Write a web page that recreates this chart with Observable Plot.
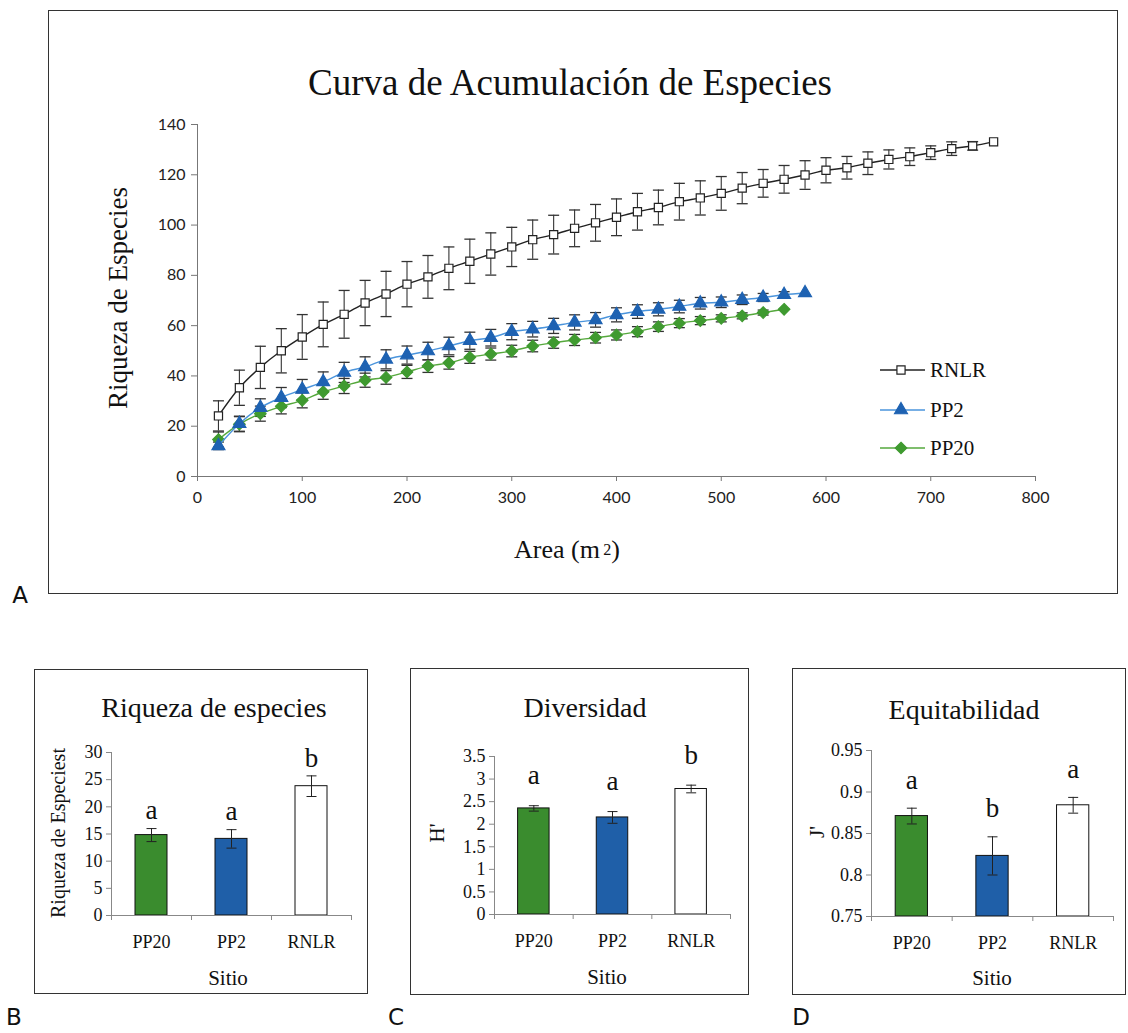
<!DOCTYPE html>
<html><head><meta charset="utf-8">
<script src="https://cdn.jsdelivr.net/npm/d3@7"></script>
<script src="https://cdn.jsdelivr.net/npm/@observablehq/plot@0.6"></script>
<style>
body{margin:0;background:#fff;}
#page{position:relative;width:1128px;height:1033px;overflow:hidden;font-family:"Liberation Serif",serif;color:#111;background:#fff;}
.frame{position:absolute;border:1.5px solid #333;box-sizing:border-box;}
.ctr{position:absolute;transform:translate(-50%,-50%);white-space:nowrap;line-height:1;}
.rot{position:absolute;transform:translate(-50%,-50%) rotate(-90deg);white-space:nowrap;line-height:1;}
.tag{position:absolute;transform:translate(-50%,-50%);font-family:"DejaVu Sans",sans-serif;font-size:23px;line-height:1;}
.slot{position:absolute;}
.leg{position:absolute;display:flex;align-items:center;font-size:21px;line-height:1;}
</style></head><body><div id="page">
<div class="frame" style="left:48px;top:10px;width:1070px;height:584px"></div>
<div class="frame" style="left:34px;top:669px;width:334px;height:325px"></div>
<div class="frame" style="left:410px;top:668px;width:339px;height:327px"></div>
<div class="frame" style="left:792px;top:668px;width:334px;height:327px"></div>
<div class="slot" id="main" style="left:0;top:0"></div>
<div class="slot" id="pB" style="left:34px;top:669px"></div>
<div class="slot" id="pC" style="left:410px;top:668px"></div>
<div class="slot" id="pD" style="left:792px;top:668px"></div>
<div class="ctr" style="left:570px;top:82px;font-size:37px">Curva de Acumulación de Especies</div>
<div class="rot" style="left:118px;top:298px;font-size:27px">Riqueza de Especies</div>
<div class="ctr" style="left:567px;top:550px;font-size:26px">Area (m<span style="font-size:0.62em;vertical-align:0.2em">&thinsp;2</span>)</div>
<div class="tag" style="left:20px;top:595px">A</div>
<div class="tag" style="left:14px;top:1017px">B</div>
<div class="tag" style="left:396px;top:1017px">C</div>
<div class="tag" style="left:801px;top:1017px">D</div>
<div class="ctr" style="left:214px;top:708px;font-size:28px">Riqueza de especies</div>
<div class="ctr" style="left:228px;top:978px;font-size:21px">Sitio</div>
<div class="rot" style="left:58px;top:833px;font-size:20px">Riqueza de Especiest</div>
<div class="ctr" style="left:585px;top:708px;font-size:28px">Diversidad</div>
<div class="ctr" style="left:607px;top:977px;font-size:21px">Sitio</div>
<div class="rot" style="left:437px;top:833px;font-size:21px">H'</div>
<div class="ctr" style="left:964px;top:710px;font-size:28px">Equitabilidad</div>
<div class="ctr" style="left:992px;top:978px;font-size:21px">Sitio</div>
<div class="rot" style="left:817px;top:832px;font-size:21px">J'</div>
<div id="legend"></div>
</div>
<script>
// ---------- Data: species accumulation curve ----------
const areaRNLR = [20,40,60,80,100,120,140,160,180,200,220,240,260,280,300,320,340,360,380,400,420,440,460,480,500,520,540,560,580,600,620,640,660,680,700,720,740,760];
const riquezaRNLR = [24.1,35.3,43.4,50.0,55.5,60.5,64.5,69.0,72.6,76.5,79.4,82.8,85.6,88.5,91.3,94.2,96.2,98.7,100.9,103.1,105.3,107.0,109.3,110.8,112.6,114.7,116.6,118.2,119.9,121.8,122.8,124.6,126.1,127.2,128.8,130.4,131.5,133.1];
const errRNLR = [6,7,8.4,8.8,8.9,8.9,9.5,9,9,9,8.5,8.5,8.8,8.4,7.8,7.8,7.7,7.3,7.3,7.3,7.3,6.9,7.3,6.8,6.7,6.2,5.5,5.5,5.7,5,4.5,4.5,3.8,3.5,2.7,2.7,1.7,0];

const areaPP2 = [20,40,60,80,100,120,140,160,180,200,220,240,260,280,300,320,340,360,380,400,420,440,460,480,500,520,540,560,580];
const riquezaPP2 = [12.2,21.0,27.4,31.4,34.6,37.6,41.4,43.6,46.6,48.3,49.9,51.9,54.0,55.2,57.6,58.6,59.9,61.3,62.3,64.3,65.6,66.5,67.6,68.9,69.3,70.3,71.2,72.3,73.0];
const errPP2 = [1.5,3,3.5,4,4,4,4,4,3.8,3.6,3.5,3.5,3.4,3.3,3.2,3.1,3,3,2.9,2.8,2.7,2.6,2.5,2.3,2.1,1.9,1.6,1.2,0];

const areaPP20 = [20,40,60,80,100,120,140,160,180,200,220,240,260,280,300,320,340,360,380,400,420,440,460,480,500,520,540,560];
const riquezaPP20 = [14.7,20.8,25.0,27.9,30.3,33.7,36.0,38.3,39.4,41.6,43.9,45.2,47.4,48.7,49.9,51.9,53.2,54.3,55.2,56.3,57.6,59.6,61.0,62.0,62.9,63.9,65.2,66.5];
const errPP20 = [3,3,3,3,3,3,3,2.8,2.7,2.6,2.5,2.5,2.4,2.4,2.3,2.3,2.2,2.2,2.1,2,2,1.9,1.8,1.6,1.4,1.2,1,0];

const xTicks = [0,100,200,300,400,500,600,700,800];
const yTicks = [0,20,40,60,80,100,120,140];
const legendOrder = ["RNLR","PP2","PP20"];

// ---------- Data: bar panels ----------
const sites = ["PP20","PP2","RNLR"];
const riqueza = [14.8, 14.1, 23.8];
const riquezaErr = [1.2, 1.7, 1.9];
const riquezaLetters = ["a","a","b"];
const riquezaTicks = [0,5,10,15,20,25,30];
const diversidad = [2.35, 2.15, 2.78];
const diversidadErr = [0.06, 0.13, 0.085];
const diversidadLetters = ["a","a","b"];
const diversidadTicks = [0,0.5,1,1.5,2,2.5,3,3.5];
const equitabilidad = [0.871, 0.823, 0.884];
const equitabilidadErr = [0.0095, 0.023, 0.0095];
const equitabilidadLetters = ["a","b","a"];
const equitabilidadTicks = [0.75,0.8,0.85,0.9,0.95];

// ---------- Styles ----------
const serif = "Liberation Serif";
const seriesStyle = {
  RNLR: {line:"#222", symbol:"square", fill:"#fff", stroke:"#222", r:4.6},
  PP2:  {line:"#4a94dc", symbol:"triangle", fill:"#1e62b2", stroke:"#1e62b2", r:4.8},
  PP20: {line:"#55a83c", symbol:"diamond2", fill:"#3f9a30", stroke:"#3f9a30", r:5.2}
};
const siteFill = {PP20:"#3a8c2e", PP2:"#1f5fa8", RNLR:"#ffffff"};
const cap = w => ({draw(ctx){ ctx.moveTo(-w,0); ctx.lineTo(w,0); }});

const table = (name, xs, ys, es) => xs.map((x,i)=>({series:name, x, y:ys[i], e:es[i]}));
const sets = {
  RNLR: table("RNLR", areaRNLR, riquezaRNLR, errRNLR),
  PP2: table("PP2", areaPP2, riquezaPP2, errPP2),
  PP20: table("PP20", areaPP20, riquezaPP20, errPP20)
};
const all = [...sets.RNLR, ...sets.PP2, ...sets.PP20].filter(d=>d.e>0);

const seriesMarks = name => {
  const s = seriesStyle[name];
  return [
    Plot.line(sets[name], {x:"x", y:"y", curve:"catmull-rom", stroke:s.line, strokeWidth:1.4}),
    Plot.dot(sets[name], {x:"x", y:"y", symbol:s.symbol, fill:s.fill, stroke:s.stroke, strokeWidth:1.2, r:s.r})
  ];
};

const main = Plot.plot({
  width:1128, height:600,
  marginLeft:197, marginRight:93, marginTop:124, marginBottom:124,
  style:{background:"transparent", fontFamily:"Lato", color:"#222"},
  x:{domain:[0,800]},
  y:{domain:[0,140]},
  marks:[
    Plot.ruleY([0], {stroke:"#777"}),
    Plot.ruleX([0], {stroke:"#777"}),
    Plot.axisY({ticks:yTicks, tickSize:6, tickPadding:6, fontSize:16, stroke:"#777", label:null, tickFormat:d=>String(d)}),
    Plot.axisX({ticks:xTicks, tickSize:5, tickPadding:10, fontSize:16, stroke:"#777", label:null, tickFormat:d=>String(d)}),
    Plot.ruleX(all, {x:"x", y1:d=>d.y-d.e, y2:d=>d.y+d.e, stroke:"#333", strokeWidth:1.1}),
    Plot.dot(all, {x:"x", y:d=>d.y+d.e, symbol:cap(5.5), fill:"none", stroke:"#333", strokeWidth:1.3}),
    Plot.dot(all, {x:"x", y:d=>d.y-d.e, symbol:cap(5.5), fill:"none", stroke:"#333", strokeWidth:1.3}),
    ...seriesMarks("PP20"),
    ...seriesMarks("PP2"),
    ...seriesMarks("RNLR")
  ]
});
document.getElementById("main").appendChild(main);

// legend
const leg = document.getElementById("legend");
const legY = [370, 410, 448];
legendOrder.forEach((name,i)=>{
  const s = seriesStyle[name];
  const symMap = {square:d3.symbolSquare, triangle:d3.symbolTriangle, diamond2:d3.symbolDiamond2};
  const path = d3.symbol(symMap[s.symbol], Math.PI*s.r*s.r)();
  const div = document.createElement("div");
  div.className = "leg";
  div.style.left = "880px"; div.style.top = (legY[i]-12)+"px"; div.style.height="24px";
  div.innerHTML = `<svg width="48" height="24" style="margin-right:2px"><line x1="0" x2="45" y1="12" y2="12" stroke="${s.line}" stroke-width="1.4"/><path d="${path}" transform="translate(21,12)" fill="${s.fill}" stroke="${s.stroke}" stroke-width="1.2"/></svg><span>${name}</span>`;
  leg.appendChild(div);
});

// bar panels
function barPanel(id, w, h, m, yDomain, ticks, vals, errs, letters, letterDy){
  const data = sites.map((s,i)=>({site:s, i, v:vals[i], e:errs[i], letter:letters[i]}));
  const base = yDomain[0];
  const p = Plot.plot({
    width:w, height:h, marginLeft:m[0], marginRight:m[1], marginTop:m[2], marginBottom:m[3],
    style:{background:"transparent", fontFamily:serif, color:"#111"},
    x:{type:"linear", domain:[0,3]},
    y:{domain:yDomain},
    marks:[
      Plot.rectY(data, {x1:d=>d.i+0.3, x2:d=>d.i+0.7, y1:base, y2:"v", fill:d=>siteFill[d.site], stroke:"#111", strokeWidth:1}),
      Plot.ruleX(data, {x:d=>d.i+0.5, y1:d=>d.v-d.e, y2:d=>d.v+d.e, stroke:"#222", strokeWidth:1}),
      Plot.dot(data, {x:d=>d.i+0.5, y:d=>d.v+d.e, symbol:cap(5), fill:"none", stroke:"#222", strokeWidth:1}),
      Plot.dot(data, {x:d=>d.i+0.5, y:d=>d.v-d.e, symbol:cap(5), fill:"none", stroke:"#222", strokeWidth:1}),
      Plot.ruleY([base], {stroke:"#888"}),
      Plot.ruleX([0], {stroke:"#888"}),
      Plot.axisY({ticks, tickSize:5, tickPadding:4, fontSize:18, stroke:"#888", label:null, tickFormat:d=>String(d)}),
      Plot.axisX({ticks:[0,1,2,3], tickSize:5, stroke:"#888", label:null, tickFormat:()=>""}),
      Plot.axisX({ticks:[0.5,1.5,2.5], tickSize:0, tickPadding:20, fontSize:18, label:null, tickFormat:d=>sites[Math.floor(d)]}),
      Plot.text(data, {x:d=>d.i+0.5, y:d=>d.v+d.e, text:"letter", dy:letterDy, fontSize:27, fontFamily:serif})
    ]
  });
  document.getElementById(id).appendChild(p);
}
barPanel("pB", 334, 325, [77,17,83,79], [0,30], riquezaTicks, riqueza, riquezaErr, riquezaLetters, -18);
barPanel("pC", 339, 327, [84,19,88,81], [0,3.5], diversidadTicks, diversidad, diversidadErr, diversidadLetters, -30);
barPanel("pD", 334, 327, [79,13,82,79], [0.75,0.95], equitabilidadTicks, equitabilidad, equitabilidadErr, equitabilidadLetters, -28);
</script></body></html>
